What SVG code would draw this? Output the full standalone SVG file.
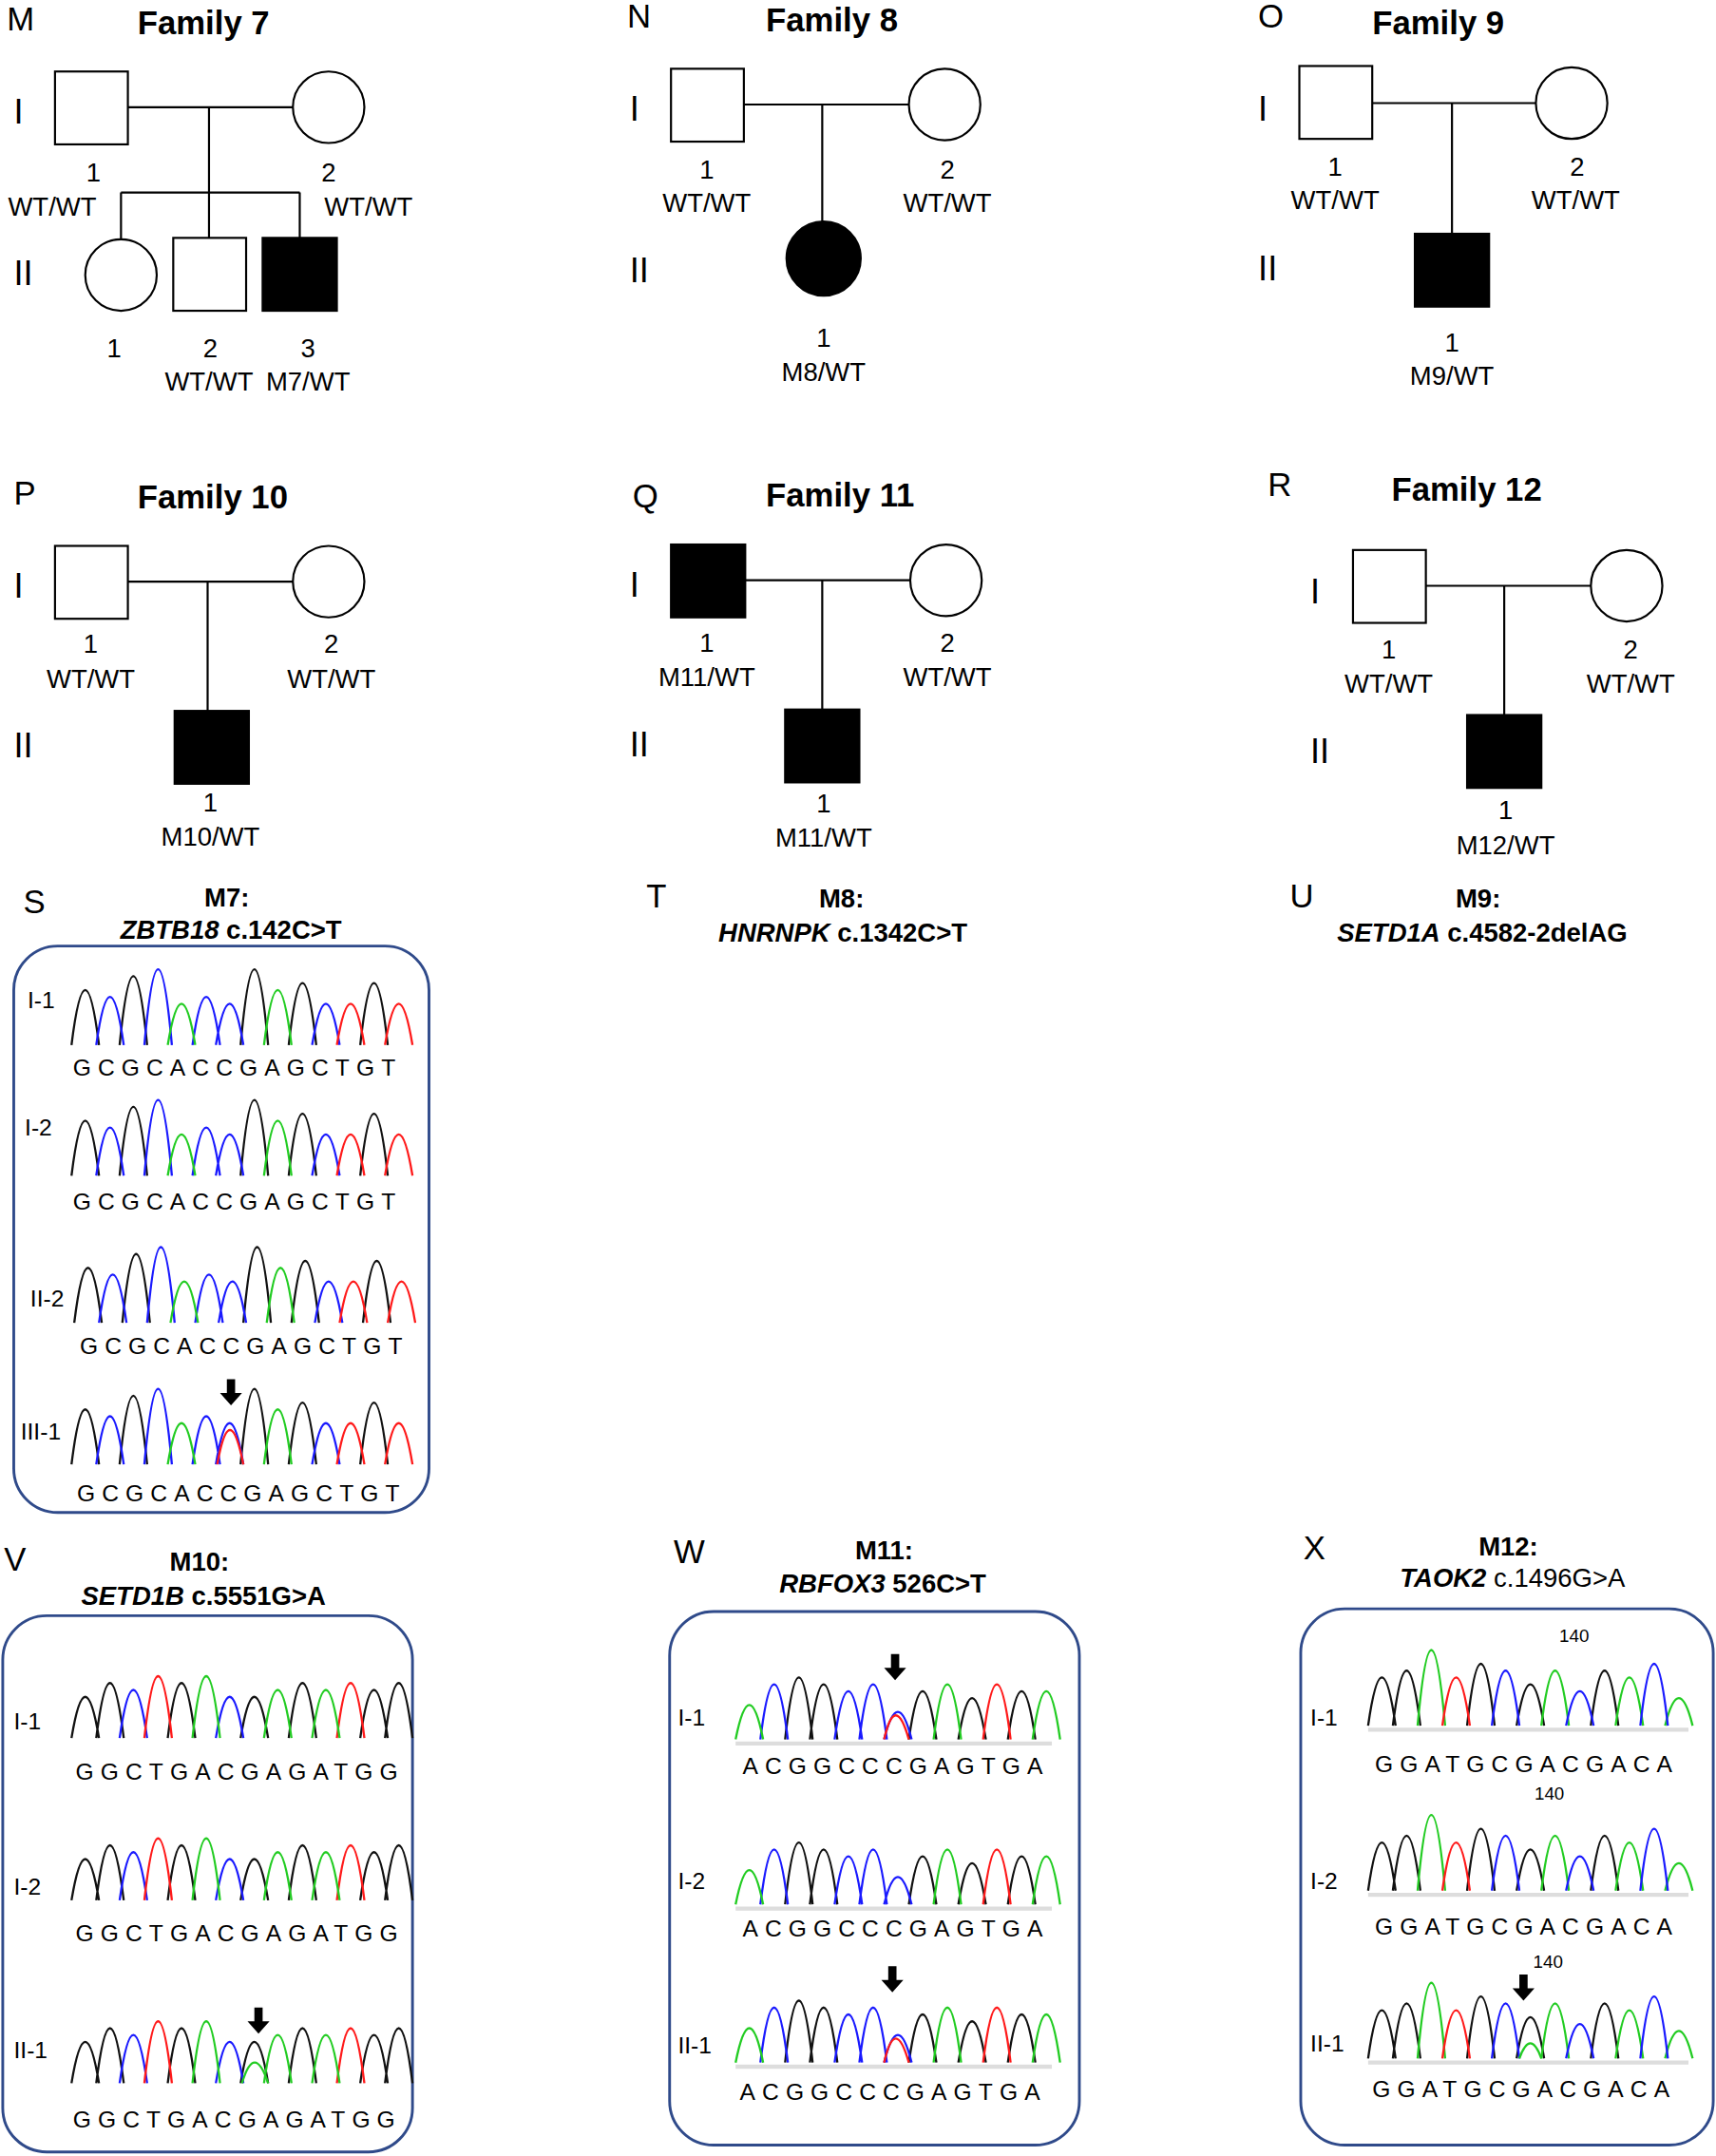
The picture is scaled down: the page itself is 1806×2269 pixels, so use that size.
<svg xmlns="http://www.w3.org/2000/svg" width="1806" height="2269" viewBox="0 0 1806 2269">
<style>
text{font-family:"Liberation Sans",Arial,sans-serif;fill:#000}
.l{font-size:19px;text-anchor:middle}
.rn{font-size:25px}
.pl{font-size:24px}
.ti{font-size:24px;font-weight:bold}
.mt{font-size:19px;font-weight:bold;text-anchor:middle}
.sq{font-size:17px;letter-spacing:4.9px}
.sh{fill:#fff;stroke:#000;stroke-width:1.5}
.f{fill:#000;stroke:#000;stroke-width:1.5}
.ln{stroke:#000;stroke-width:1.5;fill:none}
.box{fill:none;stroke:#2f4a8a;stroke-width:2}
.k{fill:none;stroke:#111;stroke-width:1.6}
.b{fill:none;stroke:#1a1aff;stroke-width:1.6}
.g{fill:none;stroke:#22cc22;stroke-width:1.6}
.r{fill:none;stroke:#ff1a1a;stroke-width:1.6}
.bl{stroke:#ddd;stroke-width:3}
</style>
<defs>
<path id="arr" d="M-3,0h6v10h5l-8,9l-8,-9h5z" fill="#000"/>
<g id="trS"><path class="k" d="M52,0Q62,-80 72,0M87,0Q97,-100 107,0M175,0Q185,-110 195,0M210,0Q220,-90 230,0M262,0Q272,-90 282,0"/><path class="b" d="M70,0Q80,-70 90,0M105,0Q115,-110 125,0M140,0Q150,-70 160,0M157,0Q167,-60 177,0M227,0Q237,-60 247,0"/><path class="g" d="M122,0Q132,-60 142,0M192,0Q202,-80 212,0"/><path class="r" d="M245,0Q255,-60 265,0M280,0Q290,-60 300,0"/></g>
<g id="trV"><path class="k" d="M52,0Q62,-60 72,0M70,0Q80,-80 90,0M122,0Q132,-80 142,0M175,0Q185,-60 195,0M210,0Q220,-80 230,0M262,0Q272,-70 282,0M280,0Q290,-80 300,0"/><path class="b" d="M87,0Q97,-70 107,0M157,0Q167,-60 177,0"/><path class="r" d="M105,0Q115,-90 125,0M245,0Q255,-80 265,0"/><path class="g" d="M140,0Q150,-90 160,0M192,0Q202,-70 212,0M227,0Q237,-70 247,0"/></g>
<g id="trW"><line class="bl" x1="535" y1="3" x2="765" y2="3"/><path class="k" d="M571,0Q581,-90 591,0M589,0Q599,-80 609,0M661,0Q671,-70 681,0M697,0Q707,-60 717,0M733,0Q743,-70 753,0"/><path class="b" d="M553,0Q563,-80 573,0M607,0Q617,-70 627,0M625,0Q635,-80 645,0M643,0Q653,-40 663,0"/><path class="g" d="M535,0Q545,-50 555,0M679,0Q689,-80 699,0M751,0Q761,-70 771,0"/><path class="r" d="M715,0Q725,-80 735,0"/></g>
<g id="trX"><line class="bl" x1="995" y1="3" x2="1228" y2="3"/><path class="k" d="M995,0Q1005,-70 1015,0M1013,0Q1023,-80 1033,0M1067,0Q1077,-90 1087,0M1103,0Q1113,-60 1123,0M1157,0Q1167,-80 1177,0"/><path class="g" d="M1031,0Q1041,-110 1051,0M1121,0Q1131,-80 1141,0M1175,0Q1185,-70 1195,0M1211,0Q1221,-40 1231,0"/><path class="r" d="M1049,0Q1059,-70 1069,0"/><path class="b" d="M1085,0Q1095,-80 1105,0M1139,0Q1149,-50 1159,0M1193,0Q1203,-90 1213,0"/></g>
</defs>
<g transform="scale(1.4471)">
<g id="connectors">
<path class="ln" d="M93,78H213M152,78V140M88,140H218M88,140V174M152,140V173M218,140V173"/>
<path class="ln" d="M541,76H661M598,76V162"/>
<path class="ln" d="M998,75H1117M1056,75V170"/>
<path class="ln" d="M93,423H213M151,423V517"/>
<path class="ln" d="M542,422H662M598,422V516"/>
<path class="ln" d="M1037,426H1157M1094,426V520"/>
</g>
<g id="family7">
<text x="5" y="22" class="pl">M</text><text x="100" y="25" class="ti">Family 7</text>
<text x="10" y="90" class="rn">I</text><text x="10" y="207" class="rn">II</text>
<rect class="sh" x="40" y="52" width="53" height="53"/><circle class="sh" cx="239" cy="78" r="26"/>
<circle class="sh" cx="88" cy="200" r="26"/><rect class="sh" x="126" y="173" width="53" height="53"/><rect class="f" x="191" y="173" width="54" height="53"/>
<text x="68" y="132" class="l">1</text><text x="38" y="157" class="l">WT/WT</text><text x="239" y="132" class="l">2</text><text x="268" y="157" class="l">WT/WT</text>
<text x="83" y="260" class="l">1</text><text x="153" y="260" class="l">2</text><text x="152" y="284" class="l">WT/WT</text><text x="224" y="260" class="l">3</text><text x="224" y="284" class="l">M7/WT</text>
</g>
<g id="family8">
<text x="456" y="20" class="pl">N</text><text x="557" y="23" class="ti">Family 8</text>
<text x="458" y="88" class="rn">I</text><text x="458" y="205" class="rn">II</text>
<rect class="sh" x="488" y="50" width="53" height="53"/><circle class="sh" cx="687" cy="76" r="26"/><circle class="f" cx="599" cy="188" r="27"/>
<text x="514" y="130" class="l">1</text><text x="514" y="154" class="l">WT/WT</text><text x="689" y="130" class="l">2</text><text x="689" y="154" class="l">WT/WT</text>
<text x="599" y="252" class="l">1</text><text x="599" y="277" class="l">M8/WT</text>
</g>
<g id="family9">
<text x="915" y="20" class="pl">O</text><text x="998" y="25" class="ti">Family 9</text>
<text x="915" y="88" class="rn">I</text><text x="915" y="204" class="rn">II</text>
<rect class="sh" x="945" y="48" width="53" height="53"/><circle class="sh" cx="1143" cy="75" r="26"/><rect class="f" x="1029" y="170" width="54" height="53"/>
<text x="971" y="128" class="l">1</text><text x="971" y="152" class="l">WT/WT</text><text x="1147" y="128" class="l">2</text><text x="1146" y="152" class="l">WT/WT</text>
<text x="1056" y="256" class="l">1</text><text x="1056" y="280" class="l">M9/WT</text>
</g>
<g id="family10">
<text x="10" y="367" class="pl">P</text><text x="100" y="370" class="ti">Family 10</text>
<text x="10" y="435" class="rn">I</text><text x="10" y="551" class="rn">II</text>
<rect class="sh" x="40" y="397" width="53" height="53"/><circle class="sh" cx="239" cy="423" r="26"/><rect class="f" x="127" y="517" width="54" height="53"/>
<text x="66" y="475" class="l">1</text><text x="66" y="500" class="l">WT/WT</text><text x="241" y="475" class="l">2</text><text x="241" y="500" class="l">WT/WT</text>
<text x="153" y="590" class="l">1</text><text x="153" y="615" class="l">M10/WT</text>
</g>
<g id="family11">
<text x="460" y="369" class="pl">Q</text><text x="557" y="368" class="ti">Family 11</text>
<text x="458" y="434" class="rn">I</text><text x="458" y="550" class="rn">II</text>
<rect class="f" x="488" y="396" width="54" height="53"/><circle class="sh" cx="688" cy="422" r="26"/><rect class="f" x="571" y="516" width="54" height="53"/>
<text x="514" y="474" class="l">1</text><text x="514" y="499" class="l">M11/WT</text><text x="689" y="474" class="l">2</text><text x="689" y="499" class="l">WT/WT</text>
<text x="599" y="591" class="l">1</text><text x="599" y="616" class="l">M11/WT</text>
</g>
<g id="family12">
<text x="922" y="361" class="pl">R</text><text x="1012" y="364" class="ti">Family 12</text>
<text x="953" y="439" class="rn">I</text><text x="953" y="555" class="rn">II</text>
<rect class="sh" x="984" y="400" width="53" height="53"/><circle class="sh" cx="1183" cy="426" r="26"/><rect class="f" x="1067" y="520" width="54" height="53"/>
<text x="1010" y="479" class="l">1</text><text x="1010" y="504" class="l">WT/WT</text><text x="1186" y="479" class="l">2</text><text x="1186" y="504" class="l">WT/WT</text>
<text x="1095" y="596" class="l">1</text><text x="1095" y="621" class="l">M12/WT</text>
</g>
<g id="panelS">
<text x="17" y="664" class="pl">S</text>
<text x="165" y="659" class="mt">M7:</text>
<text x="168" y="683" class="mt"><tspan font-style="italic">ZBTB18</tspan> c.142C&gt;T</text>
<rect class="box" x="10" y="688" width="302" height="412" rx="32"/>
<use href="#trS" transform="translate(0,760)"/>
<use href="#trS" transform="translate(0,855)"/>
<use href="#trS" transform="translate(2,962)"/>
<use href="#trS" transform="translate(0,1065)"/>
<path class="r" d="M158,1065Q167,1015 177,1065"/>
<use href="#arr" x="168" y="1003"/>
<text x="20" y="733" font-size="17">I-1</text><text x="18" y="826" font-size="17">I-2</text><text x="22" y="950" font-size="17">II-2</text><text x="15" y="1047" font-size="17">III-1</text>
<text x="53" y="782" class="sq">GCGCACCGAGCTGT</text>
<text x="53" y="880" class="sq">GCGCACCGAGCTGT</text>
<text x="58" y="985" class="sq">GCGCACCGAGCTGT</text>
<text x="56" y="1092" class="sq">GCGCACCGAGCTGT</text>
</g>
<g id="panelT">
<text x="470" y="660" class="pl">T</text>
<text x="612" y="660" class="mt">M8:</text>
<text x="613" y="685" class="mt"><tspan font-style="italic">HNRNPK</tspan> c.1342C&gt;T</text>
</g>
<g id="panelU">
<text x="938" y="660" class="pl">U</text>
<text x="1075" y="660" class="mt">M9:</text>
<text x="1078" y="685" class="mt"><tspan font-style="italic">SETD1A</tspan> c.4582-2delAG</text>
</g>
<g id="panelV">
<text x="3" y="1142" class="pl">V</text>
<text x="145" y="1142" class="mt">M10:</text>
<text x="148" y="1167" class="mt"><tspan font-style="italic">SETD1B</tspan> c.5551G&gt;A</text>
<rect class="box" x="2" y="1175" width="298" height="390" rx="32"/>
<use href="#trV" transform="translate(0,1264)"/>
<use href="#trV" transform="translate(0,1382)"/>
<use href="#trV" transform="translate(0,1515)"/>
<path class="g" d="M176,1515Q185,1485 195,1515"/>
<use href="#arr" x="188" y="1460"/>
<text x="10" y="1258" font-size="17">I-1</text><text x="10" y="1378" font-size="17">I-2</text><text x="10" y="1497" font-size="17">II-1</text>
<text x="55" y="1294" class="sq">GGCTGACGAGATGG</text>
<text x="55" y="1412" class="sq">GGCTGACGAGATGG</text>
<text x="53" y="1547" class="sq">GGCTGACGAGATGG</text>
</g>
<g id="panelW">
<text x="490" y="1137" class="pl">W</text>
<text x="643" y="1134" class="mt">M11:</text>
<text x="642" y="1158" class="mt"><tspan font-style="italic">RBFOX3</tspan> 526C&gt;T</text>
<rect class="box" x="487" y="1172" width="298" height="388" rx="32"/>
<use href="#trW" transform="translate(0,1265)"/>
<use href="#trW" transform="translate(0,1385)"/>
<use href="#trW" transform="translate(0,1500)"/>
<path class="r" d="M643,1265Q651,1230 661,1265M643,1500Q651,1465 661,1500"/>
<use href="#arr" x="651" y="1203"/><use href="#arr" x="649" y="1430"/>
<text x="493" y="1255" font-size="17">I-1</text><text x="493" y="1374" font-size="17">I-2</text><text x="493" y="1493" font-size="17">II-1</text>
<text x="540" y="1290" class="sq">ACGGCCCGAGTGA</text>
<text x="540" y="1408" class="sq">ACGGCCCGAGTGA</text>
<text x="538" y="1527" class="sq">ACGGCCCGAGTGA</text>
</g>
<g id="panelX">
<text x="948" y="1134" class="pl">X</text>
<text x="1097" y="1131" class="mt">M12:</text>
<text x="1100" y="1154" class="mt" style="font-weight:normal"><tspan style="font-weight:bold;font-style:italic">TAOK2</tspan> c.1496G&gt;A</text>
<rect class="box" x="946" y="1170" width="300" height="390" rx="32"/>
<use href="#trX" transform="translate(0,1255)"/>
<use href="#trX" transform="translate(0,1375)"/>
<use href="#trX" transform="translate(0,1497)"/>
<path class="g" d="M1105,1497Q1113,1475 1121,1497"/>
<use href="#arr" x="1108" y="1436"/>
<text x="1134" y="1194" font-size="13" font-family="Liberation Serif">140</text>
<text x="1116" y="1309" font-size="13" font-family="Liberation Serif">140</text>
<text x="1115" y="1431" font-size="13" font-family="Liberation Serif">140</text>
<text x="953" y="1255" font-size="17">I-1</text><text x="953" y="1374" font-size="17">I-2</text><text x="953" y="1492" font-size="17">II-1</text>
<text x="1000" y="1289" class="sq">GGATGCGACGACA</text>
<text x="1000" y="1407" class="sq">GGATGCGACGACA</text>
<text x="998" y="1525" class="sq">GGATGCGACGACA</text>
</g>
</g>
</svg>
